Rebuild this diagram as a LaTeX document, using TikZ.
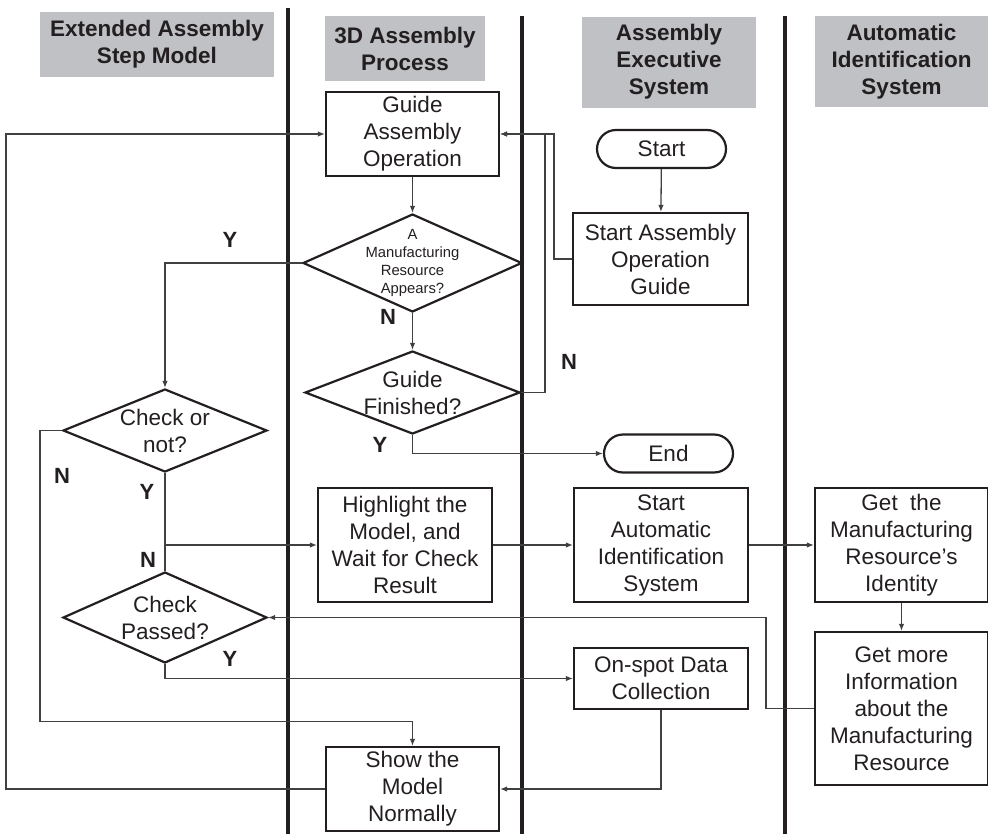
\documentclass[tikz,border=0pt]{standalone}
\usepackage{fontspec}
\setmainfont{Liberation Sans}
\usetikzlibrary{shapes.geometric,arrows.meta}
\definecolor{lanegray}{RGB}{192,193,196}
\definecolor{ink}{RGB}{35,31,32}
\definecolor{wiregray}{RGB}{64,64,64}

\begin{document}
\begin{tikzpicture}
  [x=1pt,y=-1pt,
   every node/.style={inner sep=0pt,align=center,text=ink,font=\fontsize{22.5}{27}\selectfont},
   head/.style 2 args={fill=lanegray,minimum width=#1pt,minimum height=#2pt,font=\bfseries\fontsize{22.5}{27}\selectfont},
   box/.style 2 args={draw=ink,line width=2.2pt,minimum width=#1pt,minimum height=#2pt},
   term/.style={box={129}{38},rounded corners=19pt},
   test/.style 2 args={diamond,draw=ink,line width=2.2pt,minimum width=#1pt,minimum height=#2pt},
   yn/.style={font=\bfseries\fontsize{22}{26}\selectfont},
   lane/.style={draw=ink,line width=3.8pt},
   wire/.style={draw=wiregray,line width=1.3pt},
   go/.style={wire,-{Latex[length=7pt,width=5.5pt]}}]
  \useasboundingbox (0,0) rectangle (988,835);

  % lane headers
  \node[head={234}{65}] (h1) at (157,44.5) {Extended Assembly\\Step Model};
  \node[head={160}{65}] (h2) at (405,48.5) {3D Assembly\\Process};
  \node[head={174}{91}] (h3) at (669,62) {Assembly\\Executive\\System};
  \node[head={173}{91}] (h4) at (901.5,61.5) {Automatic\\Identification\\System};

  \foreach \x/\top in {288/8,522/16,785/16}
    \draw[lane] (\x,\top) -- (\x,834);

  % steps
  \node[box={173}{84}] (guide) at (412.5,134) {Guide\\Assembly\\Operation};
  \node[test={219}{98},label={[font=\fontsize{14.8}{18}\selectfont,align=center]center:A\\Manufacturing\\Resource\\Appears?}] (appear) at (412.5,263) {};
  \node[test={215}{83},label={[align=center]center:Guide\\Finished?}] (fin) at (412.5,392.5) {};
  \node[term] (start) at (661.5,149) {Start};
  \node[box={175}{92}] (sguide) at (660.5,259) {Start Assembly\\Operation\\Guide};
  \node[term] (end) at (668.5,453.5) {End};
  \node[test={204}{83},label={[align=center]center:Check or\\not?}] (check) at (165,430.5) {};
  \node[box={174}{114}] (high) at (405,545) {Highlight the\\Model, and\\Wait for Check\\Result};
  \node[box={174}{114}] (sauto) at (661,545) {Start\\Automatic\\Identification\\System};
  \node[box={173}{114}] (ident) at (901.5,545) {Get\ \ the\\Manufacturing\\Resource’s\\Identity};
  \node[test={204}{91},label={[align=center]center:Check\\Passed?}] (passed) at (165,617.5) {};
  \node[box={173}{153}] (more) at (901.5,708.5) {Get more\\Information\\about the\\Manufacturing\\Resource};
  \node[box={174}{61}] (spot) at (661,678.5) {On-spot Data\\Collection};
  \node[box={173}{84}] (show) at (412.5,789) {Show the\\Model\\Normally};
  \coordinate (split) at (165,545);

  % answers
  \node[yn] (y1) at (230,240) {Y};
  \node[yn] (n1) at (388,317) {N};
  \node[yn] (n2) at (569,362) {N};
  \node[yn] (y2) at (380,445) {Y};
  \node[yn] (n3) at (62,476) {N};
  \node[yn] (y3) at (147,492) {Y};
  \node[yn] (n4) at (148,560) {N};
  \node[yn] (y4) at (230,659) {Y};

  \foreach \from/\to in {guide/appear,appear/fin,start/sguide,high/sauto,sauto/ident,ident/more,split/high}
    \draw[go] (\from) -- (\to);

  \draw[go] (show.west) -- ++(-319,0) |- (guide.west);
  \draw[go] (appear.west) -| (check.north);
  \draw[go] (fin.east) -- ++(24,0) |- (guide.east);
  \draw[go] (sguide.west) -- ++(-18,0) |- (guide.east);
  \draw[go] (fin.south) |- (end.west);
  \draw[go] (check.west) -- ++(-22,0) -- ++(0,291) -| (show.north);
  \draw[wire] (check.south) -- (passed.north);
  \draw[go] (more.west) -- ++(-48,0) |- (passed.east);
  \draw[go] (passed.south) |- (spot.west);
  \draw[go] (spot.south) |- (show.east);

\end{tikzpicture}
\end{document}
